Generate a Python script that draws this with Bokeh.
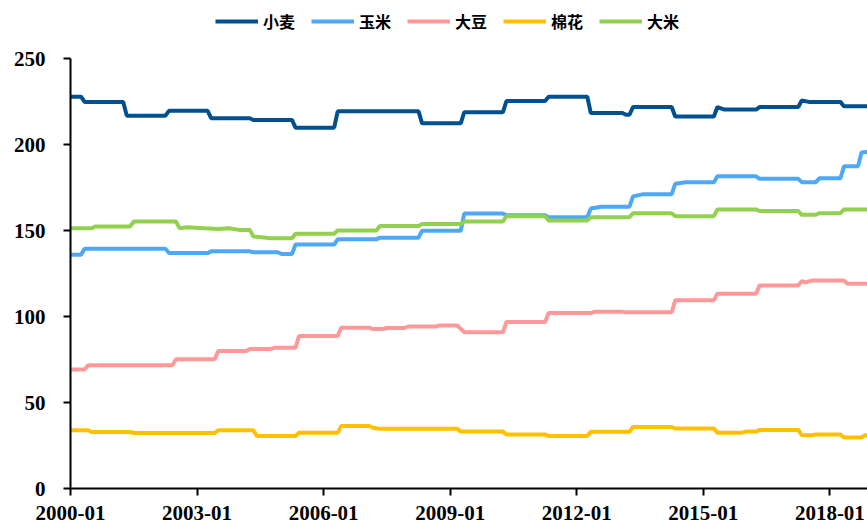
from bokeh.plotting import figure
from bokeh.models import Legend, LegendItem, FixedTicker, Range1d
from bokeh.embed import file_html
from bokeh.resources import INLINE

# x = month index (0 = 2000-01)
tick_months = [0, 36, 72, 108, 144, 180, 216]
tick_labels = ["2000-01", "2003-01", "2006-01", "2009-01", "2012-01", "2015-01", "2018-01"]
y_ticks = [0, 50, 100, 150, 200, 250]

series_names = ["小麦", "玉米", "大豆", "棉花", "大米"]
series_colors = ["#00508F", "#4DA8F8", "#FF9999", "#FFC000", "#92D050"]

wheat_m = [0, 3, 4, 15, 16, 27, 28, 39, 40, 51, 52, 63, 64, 75, 76, 99, 100, 111, 112,
           123, 124, 135, 136, 147, 148, 157, 158, 159, 160, 171, 172, 183, 184, 186,
           195, 196, 207, 208, 210, 219, 220, 227]
wheat_v = [228, 228, 225, 225, 217, 217, 219.8, 219.8, 215.5, 215.5, 214.5, 214.5, 210, 210,
           219.5, 219.5, 212.5, 212.5, 219, 219, 225.5, 225.5, 228, 228, 218.5, 218.5, 217.5,
           217.5, 222, 222, 216.5, 216.5, 222, 220.5, 220.5, 222, 222, 225.8, 225, 225,
           222.5, 222.5]

corn_m = [0, 3, 4, 27, 28, 39, 40, 51, 52, 59, 60, 63, 64, 75, 76, 87, 88, 99, 100, 111, 112,
          123, 124, 135, 136, 147, 148, 151, 159, 160, 163, 171, 172, 175, 183, 184, 195, 196,
          207, 208, 212, 213, 219, 220, 224, 225, 227]
corn_v = [136, 136, 139.5, 139.5, 137, 137, 138, 138, 137.5, 137.5, 136.5, 136.5, 142, 142, 145,
          145, 146, 146, 150, 150, 160, 160, 159, 159, 157.8, 157.8, 163, 164, 164, 170, 171.3,
          171.3, 177.3, 178.2, 178.2, 181.7, 181.7, 180.2, 180.2, 178.3, 178.3, 180.5, 180.5,
          187.5, 187.5, 195.5, 196]

soy_m = [0, 4, 5, 29, 30, 41, 42, 50, 51, 57, 58, 64, 65, 76, 77, 85, 86, 89, 90, 95, 96, 104,
         105, 110, 112, 123, 124, 135, 136, 148, 149, 157, 158, 171, 172, 183, 184, 195, 196,
         207, 208, 209, 211, 220, 221, 227]
soy_v = [69.2, 69.2, 71.7, 71.7, 75.2, 75.2, 80, 80, 81.2, 81.2, 81.9, 81.9, 88.7, 88.7, 93.6,
         93.6, 92.8, 92.8, 93.4, 93.4, 94.3, 94.3, 94.9, 94.9, 91, 91, 96.9, 96.9, 102.1, 102.1,
         102.8, 102.8, 102.5, 102.5, 109.5, 109.5, 113.4, 113.4, 118.2, 118.2, 120.7, 120, 121,
         121, 119.2, 119.2]

cotton_m = [0, 5, 6, 17, 18, 41, 42, 52, 53, 64, 65, 76, 77, 85, 86, 88, 110, 111, 123, 124,
            135, 136, 147, 148, 159, 160, 171, 172, 183, 184, 191, 192, 195, 196, 207, 208, 211,
            212, 219, 220, 225, 226, 227]
cotton_v = [33.9, 33.9, 32.9, 32.9, 32.3, 32.3, 33.9, 33.9, 30.6, 30.6, 32.5, 32.5, 36.4, 36.4,
            35.4, 34.7, 34.7, 33.1, 33.1, 31.4, 31.4, 30.6, 30.6, 33, 33, 35.8, 35.8, 34.9, 34.9,
            32.5, 32.5, 33.1, 33.1, 34.1, 34.1, 31, 31, 31.4, 31.4, 29.7, 29.7, 31, 31]

rice_m = [0, 6, 7, 17, 18, 30, 31, 33, 38, 42, 45, 48, 51, 52, 57, 63, 64, 75, 76, 87, 88, 99,
          100, 111, 112, 123, 124, 135, 136, 147, 148, 159, 160, 171, 172, 183, 184, 195, 196,
          207, 208, 212, 213, 219, 220, 227]
rice_v = [151.5, 151.5, 152.5, 152.5, 155.4, 155.4, 151.5, 152, 151.5, 151, 151.5, 150.5, 150.5,
          146.7, 145.7, 145.7, 148.3, 148.3, 150.2, 150.2, 152.7, 152.7, 154, 154, 155.4, 155.4,
          158.5, 158.5, 156, 156, 157.9, 157.9, 160.2, 160.2, 158.5, 158.5, 162.4, 162.4, 161.5,
          161.5, 159.3, 159.3, 160.2, 160.2, 162.4, 162.4]

p = figure(width=867, height=525, output_backend="svg", toolbar_location=None,
           x_range=Range1d(0, 226.7), y_range=Range1d(0, 284),
           min_border_left=70, min_border_right=0, min_border_top=0, min_border_bottom=37)
p.outline_line_color = None
p.xgrid.grid_line_color = None
p.ygrid.grid_line_color = None
p.background_fill_color = "white"

data = [(wheat_m, wheat_v), (corn_m, corn_v), (soy_m, soy_v), (cotton_m, cotton_v), (rice_m, rice_v)]
renderers = []
for (xs, ys), c in zip(data, series_colors):
    r = p.line(xs, ys, line_color=c, line_width=4)
    renderers.append(r)

p.xaxis.ticker = FixedTicker(ticks=tick_months)
p.xaxis.major_label_overrides = {m: l for m, l in zip(tick_months, tick_labels)}
p.yaxis.ticker = FixedTicker(ticks=y_ticks)
p.yaxis.bounds = (0, 250)

for ax, standoff in ((p.xaxis, 10), (p.yaxis, 18)):
    ax.axis_line_width = 2
    ax.axis_line_color = "black"
    ax.major_tick_line_width = 2
    ax.major_tick_line_color = "black"
    ax.major_tick_out = 7
    ax.major_tick_in = 0
    ax.minor_tick_out = 0
    ax.minor_tick_in = 0
    ax.major_label_text_font = "Liberation Serif"
    ax.major_label_text_font_style = "bold"
    ax.major_label_text_font_size = "21px"
    ax.major_label_text_color = "black"
    ax.major_label_standoff = standoff

items = [LegendItem(label=n, renderers=[r]) for n, r in zip(series_names, renderers)]
legend = Legend(items=items, location=(145, 455), orientation="horizontal",
                glyph_width=43, glyph_height=20, label_height=20, label_standoff=5, spacing=16,
                padding=0, margin=0, border_line_color=None, background_fill_alpha=0,
                label_text_font="Noto Sans CJK SC", label_text_font_style="bold",
                label_text_font_size="16px", label_text_color="black")
p.add_layout(legend, "center")

open("out.html", "w").write(file_html(p, INLINE))
